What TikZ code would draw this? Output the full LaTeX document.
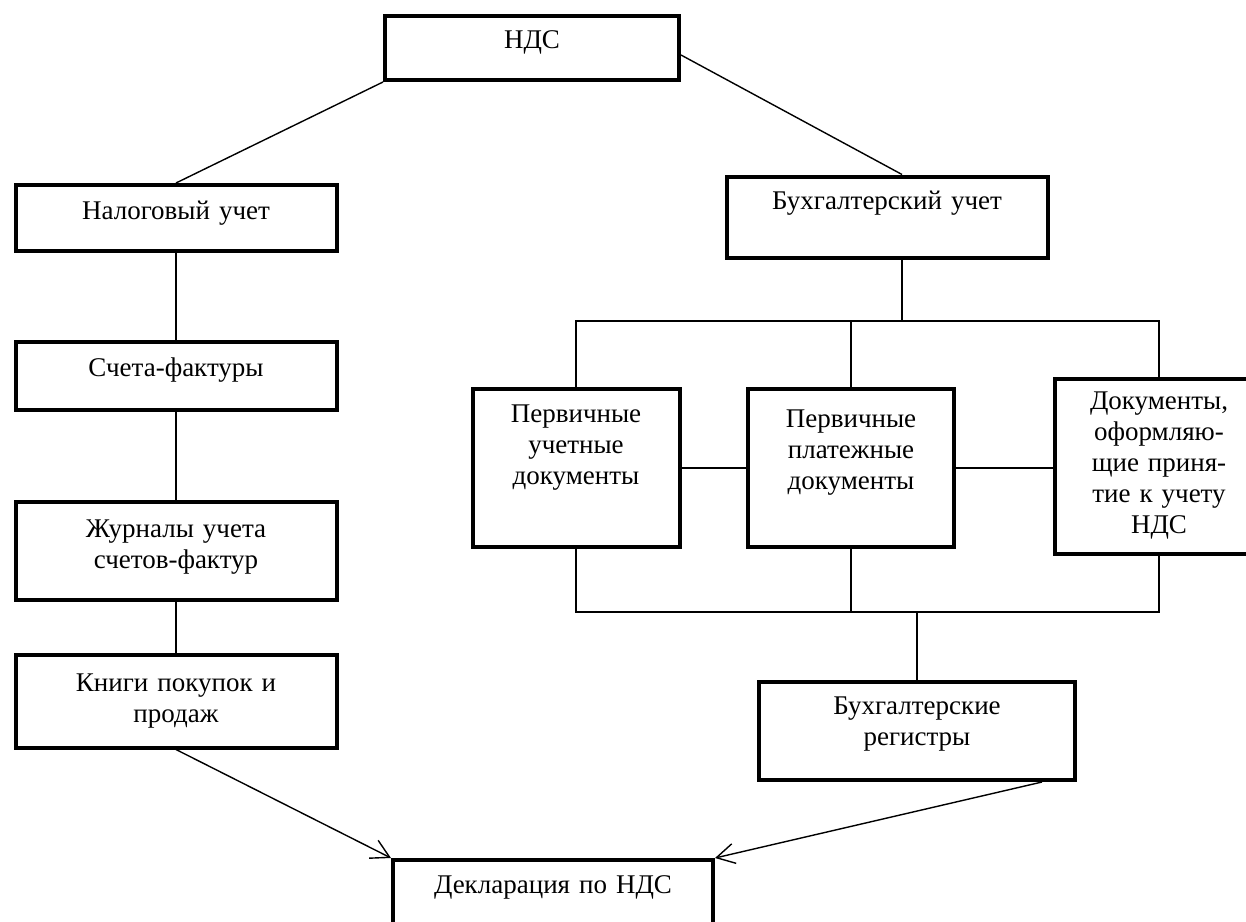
\documentclass[tikz,border=0pt]{standalone}
\usepackage{fontspec}
\setmainfont{Liberation Serif}
\usetikzlibrary{arrows.meta}
\newcommand\boxpad[1]{\endgraf\vspace*{#1}}

\begin{document}
\begin{tikzpicture}[
  x=0.5pt,
  y=-0.5pt,
  every node/.style={font=\fontsize{13.5}{15.5}\selectfont},
  box/.style={draw, line width=2pt, align=center, inner sep=0pt},
  textup/.style={execute at end node={\boxpad{#1}}},
  link/.style={line width=0.7pt},
  arrow/.style={line width=0.7pt, -{Straight Barb[length=9pt, width=10pt]}}
]
  % ---- common bounding box ----
  \useasboundingbox (0,0) rectangle (1246,921);

  % ---- top ----
  \node[box, minimum width=147pt, minimum height=32pt, text width=137pt,
        textup=6pt] (nds) at (532,48) {НДС};

  % ---- left column: tax accounting ----
  \node[box, minimum width=160.5pt, minimum height=33pt, text width=150pt,
        textup=5pt] (nalog) at (176,218) {Налоговый учет};
  \node[box, minimum width=160.5pt, minimum height=34pt, text width=150pt,
        textup=6pt] (scheta) at (176,376) {Счета-фактуры};
  \node[box, minimum width=160.5pt, minimum height=49pt, text width=150pt,
        textup=4pt] (jurnal) at (176,551) {Журналы учета\\счетов-фактур};
  \node[box, minimum width=160.5pt, minimum height=46.5pt, text width=150pt]
        (knigi) at (176,701) {Книги покупок и\\продаж};

  % ---- right part: bookkeeping ----
  \node[box, minimum width=160.5pt, minimum height=40.5pt, text width=150pt,
        textup=14pt] (buxuchet) at (887,217) {Бухгалтерский учет};
  \node[box, minimum width=103.5pt, minimum height=79pt, text width=95pt,
        textup=20pt] (pervuch) at (576,468) {Первичные\\учетные\\документы};
  \node[box, minimum width=103pt, minimum height=79pt, text width=95pt,
        textup=15pt] (pervplat) at (851,468) {Первичные\\платежные\\документы};
  \node[box, minimum width=104pt, minimum height=87.5pt, text width=92pt]
        (docs) at (1159,466) {Документы,\\оформляю-\\щие приня-\\тие к учету\\НДС};
  \node[box, minimum width=158pt, minimum height=49pt, text width=148pt,
        textup=7pt] (registers) at (917,731) {Бухгалтерские\\регистры};

  % ---- bottom ----
  \node[box, minimum width=160pt, minimum height=40pt, text width=150pt,
        textup=13pt] (declar) at (553,900) {Декларация по НДС};

  % ---- connectors ----
  \coordinate (topbus) at (0,321);
  \coordinate (lowbus) at (0,612);

  \draw[link] (nds.south west) -- (nalog.north);
  \draw[link] ([yshift=-3.5pt]nds.east) -- ([xshift=7.5pt]buxuchet.north);

  \draw[link] (nalog.south) -- (scheta.north);
  \draw[link] (scheta.south) -- (jurnal.north);
  \draw[link] (jurnal.south) -- (knigi.north);

  \draw[link] ([xshift=7.5pt]buxuchet.south) -- ([xshift=7.5pt]buxuchet.south |- topbus);
  \draw[link] (pervuch.north) |- (topbus -| docs.north) -- (docs.north);
  \draw[link] (pervplat.north) -- (pervplat.north |- topbus);

  \draw[link] (pervuch.east) -- (pervplat.west);
  \draw[link] (pervplat.east) -- (pervplat.east -| docs.west);

  \draw[link] (pervuch.south) |- (lowbus -| docs.south) -- (docs.south);
  \draw[link] (pervplat.south) -- (pervplat.south |- lowbus);
  \draw[link] (registers.north) -- (registers.north |- lowbus);

  \draw[arrow] (knigi.south) -- (declar.north west);
  \draw[arrow] ([xshift=-17.5pt]registers.south east) -- (declar.north east);
\end{tikzpicture}
\end{document}
